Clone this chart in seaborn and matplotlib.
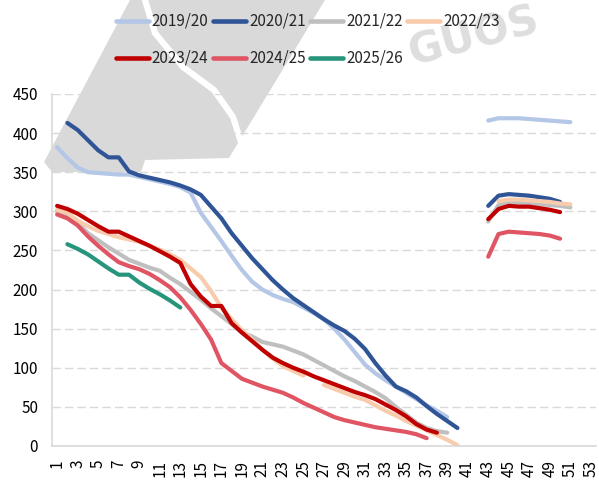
import numpy as np
import pandas as pd
import matplotlib
matplotlib.use("Agg")
import matplotlib.pyplot as plt
from matplotlib.patches import Polygon
from matplotlib.lines import Line2D
import seaborn as sns

nan = np.nan
weeks = list(range(1, 54))
series_names = ["2019/20", "2020/21", "2021/22", "2022/23", "2023/24", "2024/25", "2025/26"]
colors = ["#b4c7e7", "#2f5597", "#bfbfbf", "#f8cbad", "#c00000", "#e05563", "#26957c"]

def pad(left, right_start=None, right=None):
    vals = list(left)
    if right is not None:
        vals += [nan] * (right_start - 1 - len(vals)) + list(right)
    vals += [nan] * (53 - len(vals))
    return vals

s1920 = pad([382, 368, 356, 350, 349, 348, 347, 347, 344, 341, 338, 335, 331, 324,
             298, 280, 262, 243, 225, 210, 200, 193, 188, 184, 177, 170, 162, 150,
             136, 120, 104, 93, 84, 76, 68, 60, 52, 45, 37],
            43, [416, 419, 419, 419, 418, 417, 416, 415, 414])
s2021 = pad([nan, 413, 404, 391, 378, 369, 369, 351, 346, 343, 340, 337, 333, 328,
             321, 306, 291, 272, 256, 240, 226, 212, 200, 189, 180, 171, 162, 154,
             147, 137, 124, 106, 90, 76, 70, 62, 51, 41, 32, 23],
            43, [307, 320, 322, 321, 320, 318, 316, 312])
s2122 = pad([300, 295, 285, 272, 263, 254, 246, 238, 233, 228, 224, 215, 207, 197,
             187, 176, 166, 156, 145, 140, 133, 130, 127, 122, 117, 110, 103, 96,
             89, 83, 76, 69, 61, 50, 40, 30, 23, 19, 17],
            43, [287, 308, 311, 311, 310, 309, 308, 307, 305])
s2223 = pad([302, 298, 288, 281, 275, 271, 267, 264, 261, 256, 251, 245, 238, 227,
             216, 198, 177, 162, 148, 136, 123, 112, 102, 96, 90, nan,
             78, 73, 68, 63, 59, 52, 45, 39, 32, 26, 20, 14, 8, 1],
            44, [313, 315, 315, 314, 313, 312, 310, 309])
s2324 = pad([307, 303, 297, 289, 281, 274, 274, 268, 262, 256, 249, 242, 234, 207,
             191, 179, 179, 157, 145, 134, 123, 113, 106, 100, 95, 89, 84, 79,
             74, 69, 65, 60, 53, 46, 38, 28, 21, 17],
            43, [290, 303, 307, 306, 306, 304, 302, 299])
s2425 = pad([296, 291, 282, 268, 256, 245, 235, 230, 226, 220, 212, 203, 190, 174,
             156, 136, 106, 96, 86, 81, 76, 72, 68, 62, 55, 49, 43, 37,
             33, 30, 27, 24, 22, 20, 18, 15, 10],
            43, [242, 271, 274, 273, 272, 271, 269, 265])
s2526 = pad([nan, 258, 252, 245, 236, 227, 219, 219, 209, 201, 194, 186, 177])

all_series = [s1920, s2021, s2122, s2223, s2324, s2425, s2526]
yticks = list(range(0, 451, 50))
xticks = list(range(1, 54, 2))

def to_frame(name, vals):
    rows, seg, prev_nan = [], 0, True
    for w, v in zip(weeks, vals):
        if v is None or np.isnan(v):
            prev_nan = True
            continue
        if prev_nan:
            seg += 1
            prev_nan = False
        rows.append((w, v, name, seg))
    return pd.DataFrame(rows, columns=["week", "value", "series", "seg"])

sns.set_theme(style="white")
plt.rcParams["font.family"] = ["Noto Sans CJK SC", "DejaVu Sans"]

W, H = 599, 484
fig = plt.figure(figsize=(W / 100, H / 100), dpi=100)
ax = fig.add_axes([52 / W, 1 - 446 / H, 544 / W, 352 / H])
ax.set_facecolor("none")

def P(x, y):
    return (x / W, 1 - y / H)

# watermark logo
band = Polygon([P(130, 0), P(325, 0), P(229, 158), P(145, 160), P(141, 172),
                P(52, 172), P(44, 162)], closed=True, transform=fig.transFigure,
               facecolor="#d9d9d9", edgecolor="none", zorder=-2)
fig.add_artist(band)
curve = [(145, 0), (155, 33), (183, 67), (214, 90), (233, 117), (241, 142)]
fig.add_artist(Line2D([P(*c)[0] for c in curve], [P(*c)[1] for c in curve],
                      transform=fig.transFigure, color="white", lw=4.5,
                      solid_capstyle="round", zorder=-1))
fig.text(413 / W, 1 - 66 / H, "GUOS", fontsize=30, fontweight="bold",
         color="#dedede", rotation=15, rotation_mode="anchor",
         ha="left", va="baseline", family="DejaVu Sans", zorder=-1)

for name, vals, col in zip(series_names, all_series, colors):
    df = to_frame(name, vals)
    sns.lineplot(data=df, x="week", y="value", units="seg", estimator=None,
                 color=col, linewidth=3.0, ax=ax, legend=False, sort=False,
                 solid_capstyle="round", solid_joinstyle="round")

ax.set_xlim(0.5, 53.5)
ax.set_ylim(0, 450)
ax.set_xticks(xticks)
ax.set_xticklabels([str(t) for t in xticks], rotation=90)
ax.set_yticks(yticks)
ax.set_xlabel("")
ax.set_ylabel("")
ax.yaxis.grid(True, linestyle=(0, (6, 3)), color="#d9d9d9", linewidth=1)
ax.xaxis.grid(False)
for s in ["top", "right"]:
    ax.spines[s].set_visible(False)
for s in ["left", "bottom"]:
    ax.spines[s].set_color("#d9d9d9")
    ax.spines[s].set_linewidth(1.2)
ax.tick_params(axis="both", length=0, labelsize=11, colors="#000000", pad=10)

handles = [Line2D([0], [0], color=c, lw=3.3) for c in colors]
order = [0, 4, 1, 5, 2, 6, 3]
fig.legend([handles[i] for i in order], [series_names[i] for i in order],
           ncol=4, loc="upper left", bbox_to_anchor=(116 / W, 1 - 13 / H),
           frameon=False, fontsize=11, handlelength=2.15, handletextpad=0.2,
           columnspacing=0.3, labelspacing=1.3, borderpad=0, borderaxespad=0)

fig.savefig("out.png", dpi=100)
